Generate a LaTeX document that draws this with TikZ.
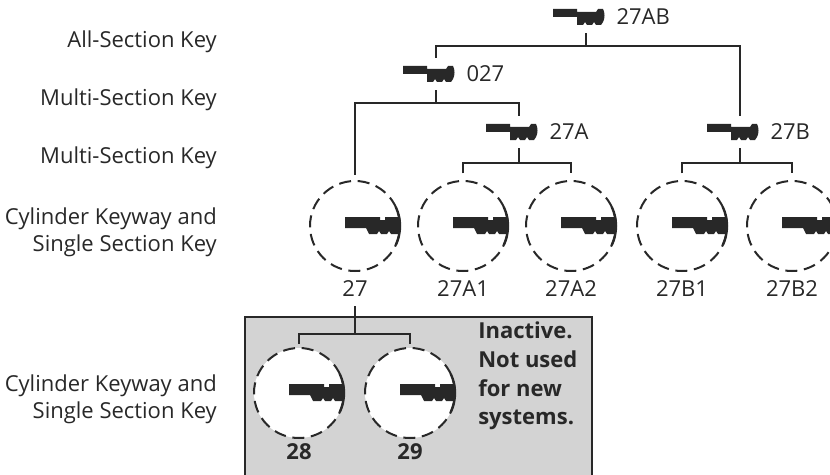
\documentclass[tikz,border=0pt]{standalone}
\usepackage{fontspec}
\setmainfont{Open Sans}
\usetikzlibrary{positioning}
\definecolor{ink}{RGB}{40,40,40}
\definecolor{boxgray}{RGB}{211,211,211}
\tikzset{
  link/.style={draw=ink, line width=1.5pt},
  treekey/.style={minimum width=1pt, minimum height=12pt, inner sep=0pt},
  lock/.style={circle, draw=ink, fill=white, line width=1.5pt,
    dash pattern=on 9pt off 5pt, minimum size=67.5pt, inner sep=0pt},
  num/.style={text=ink, inner sep=0pt},
  numbold/.style={num, font=\fontsize{16.5}{20}\selectfont\bfseries},
  side/.style={text=ink, inner sep=0pt, align=right, anchor=east},
  keyshape/.pic={
    \fill[ink] (-33,-8) -- (-9,-8) -- (-9,-5) -- (10,-5) -- (12,-8) -- (17,-8)
      .. controls (19,-5) and (19,2) .. (17,5) -- (15,8) -- (10,8) -- (8,5)
      -- (6,8) -- (1,8) -- (-1,5) -- (-3,8) -- (-9,8) -- (-9,0) -- (-33,0) -- cycle;
  },
  lockshape/.pic={
    \fill[ink] (-10,-9) -- (25,-9) -- (25,-6) -- (30,-6) -- (30,-9) -- (44,-9)
      .. controls (46.5,-3) and (46.5,3) .. (44,8) -- (36,8) -- (34,5) -- (32,8)
      -- (26,8) -- (24,5) -- (22,8) -- (14,8) -- (11,2) -- (-10,2) -- cycle;
    \draw[ink, line width=1.8pt] (-25:45) arc[start angle=-25, end angle=25, radius=45];
  }
}
\begin{document}
\begin{tikzpicture}[x=0.75pt, y=-0.75pt, font=\fontsize{16.5}{20}\selectfont]
  \useasboundingbox (0,0) rectangle (830,474);
  % inactive panel
  \filldraw[fill=boxgray, draw=ink, line width=1.5pt] (245,317) rectangle (592,490);

  % captions on the left
  \node[side] (capAll) at (217,42) {All-Section Key};
  \node[side] (capMultiA) at (217,100) {Multi-Section Key};
  \node[side] (capMultiB) at (217,158) {Multi-Section Key};
  \node[side] (capCylA) at (217,232) {Cylinder Keyway and\\Single Section Key};
  \node[side] (capCylB) at (217,399) {Cylinder Keyway and\\Single Section Key};

  % keys of the tree
  \node[treekey] (k27AB) at (586,17) {};
  \node[treekey] (k027) at (436,74) {};
  \node[treekey] (k27A) at (519,132) {};
  \node[treekey] (k27B) at (740,132) {};
  \foreach \k in {k27AB,k027,k27A,k27B} \pic at (\k) {keyshape};
  \node[num, right=22pt of k27AB] (t27AB) {27AB};
  \node[num, right=22pt of k027] (t027) {027};
  \node[num, right=22pt of k27A] (t27A) {27A};
  \node[num, right=22pt of k27B] (t27B) {27B};

  % cylinders
  \node[lock] (c27) at (355,226) {};
  \node[lock] (c27A1) at (463,226) {};
  \node[lock] (c27A2) at (571,226) {};
  \node[lock] (c27B1) at (682,226) {};
  \node[lock] (c27B2) at (792,226) {};
  \node[lock] (c28) at (299,393) {};
  \node[lock] (c29) at (410,393) {};
  \foreach \c in {c27,c27A1,c27A2,c27B1,c27B2,c28,c29} \pic at (\c) {lockshape};
  \foreach \c in {27,27A1,27A2,27B1,27B2}
    \node[num, below=6pt of c\c] (n\c) {\c};
  \node[numbold, below=3pt of c28] (n28) {28};
  \node[numbold, below=3pt of c29] (n29) {29};

  \node[num, numbold, anchor=north west, align=left,
    font=\fontsize{16.5}{21.4}\selectfont\bfseries] (inactive) at (478,322)
    {Inactive.\\Not used\\for new\\systems.};

  % connectors
  \path (k27AB.south) ++(0,21) coordinate (barAB);
  \draw[link, shorten >=6pt] (barAB) -- (k27AB.south);
  \draw[link, shorten <=6pt, shorten >=6pt] (k027.north) |- (barAB) -| (k27B.north);

  \path (k027.south) ++(0,21) coordinate (bar027);
  \draw[link, shorten >=6pt] (bar027) -- (k027.south);
  \draw[link, shorten <=4pt, shorten >=6pt] (c27.north) |- (bar027) -| (k27A.north);

  \path (k27A.south) ++(0,23) coordinate (bar27A);
  \draw[link, shorten >=6pt] (bar27A) -- (k27A.south);
  \draw[link, shorten <=5pt, shorten >=5pt] (c27A1.north) |- (bar27A) -| (c27A2.north);

  \path (k27B.south) ++(0,23) coordinate (bar27B);
  \draw[link, shorten >=6pt] (bar27B) -- (k27B.south);
  \draw[link, shorten <=5pt, shorten >=5pt] (c27B1.north) |- (bar27B) -| (c27B2.north);

  \path (n27.south) ++(0,38) coordinate (bar27);
  \draw[link, shorten >=7pt] (bar27) -- (n27.south);
  \draw[link, shorten <=2.5pt, shorten >=2.5pt] (c28.north) |- (bar27) -| (c29.north);
\end{tikzpicture}
\end{document}
